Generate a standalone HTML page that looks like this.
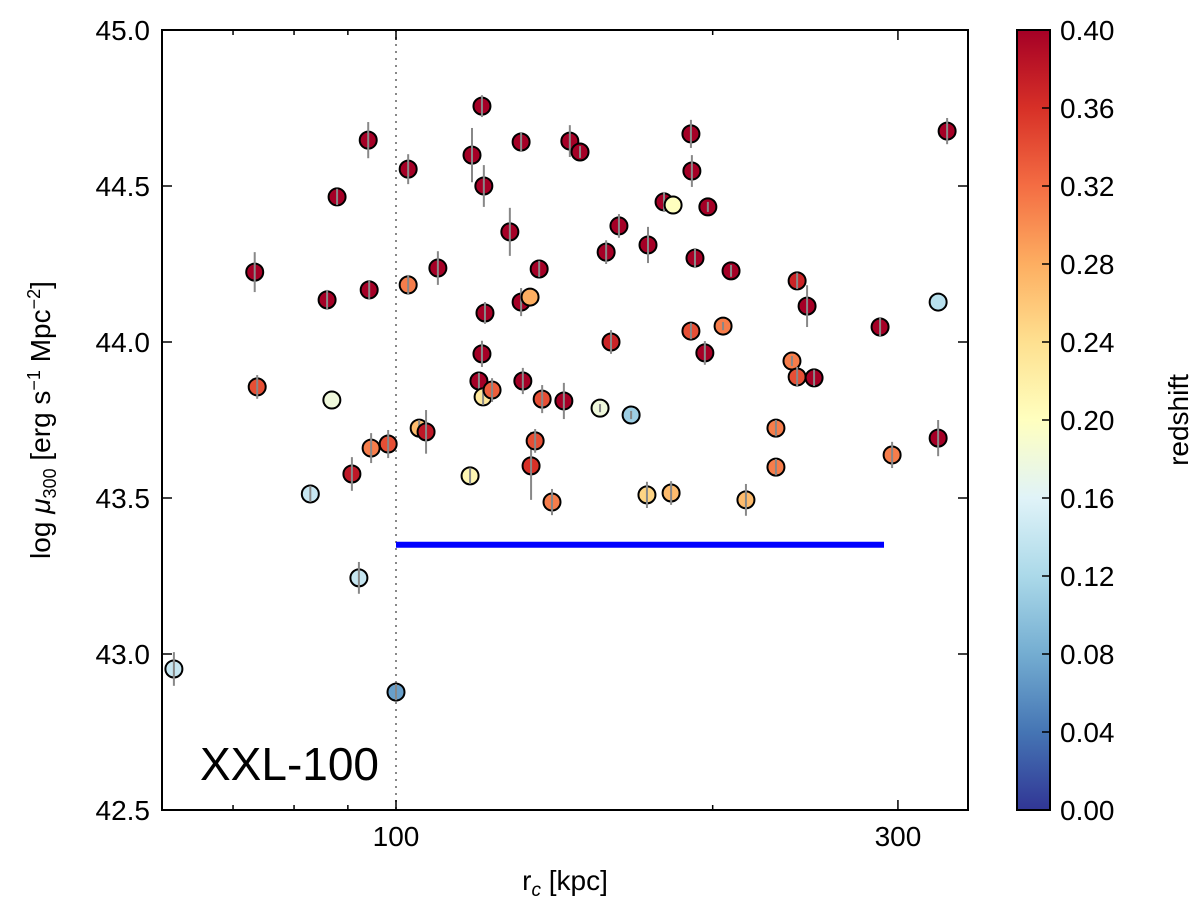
<!DOCTYPE html>
<html><head><meta charset="utf-8"><style>
body{margin:0;background:#fff;}
svg text{font-family:"Liberation Sans",sans-serif;}
</style></head><body>
<svg id="chart" width="1200" height="906" xmlns="http://www.w3.org/2000/svg"></svg>
<script>
const rcValues=[61.5,73.4,73.8,82.9,86.0,86.9,87.9,90.8,92.2,94.1,94.3,94.7,98.3,100,102.7,102.7,105.2,106.8,109.6,117.6,118.1,119.9,120.7,120.7,121.2,121.0,121.5,123.4,128.3,131.5,131.5,132.0,134.1,134.4,135.6,136.8,137.7,140.7,144.4,146.3,149.6,156.3,158.4,160.1,162.9,167.3,173.2,173.6,179.8,182.6,183.4,190.7,190.7,191.1,192.4,196.6,197.9,204.6,208.2,215.1,229.7,229.7,237.9,240.6,240.6,245.9,249.7,288.5,296.2,327.6,327.6,334.1];
const muValues=[42.952,44.224,43.856,43.513,44.135,43.814,44.465,43.577,43.244,44.647,44.167,43.660,43.673,42.878,44.554,44.183,43.724,43.712,44.237,43.571,44.599,43.875,44.756,43.962,44.5,43.824,44.093,43.846,44.353,44.641,44.128,43.875,44.144,43.603,43.683,44.234,43.817,43.487,43.811,44.644,44.609,43.788,44.288,44.0,44.372,43.766,43.510,44.311,44.449,43.516,44.439,44.667,44.035,44.548,44.269,43.965,44.433,44.051,44.228,43.494,43.724,43.599,43.939,44.196,43.888,44.115,43.885,44.048,43.638,44.128,43.692,44.676];
const muErr=[.054,.064,.038,.026,.032,0,.026,.054,.051,.058,.029,.048,.045,.026,.048,.032,.026,.07,.054,.026,.087,.026,.035,.042,.067,.026,.035,.038,.077,.029,.045,.042,0,.109,.038,.026,.045,.042,.058,.051,.019,.013,.038,.038,.038,.013,.042,.058,.032,.038,0,.045,.026,.051,.032,.038,.016,.013,.019,.051,.026,.026,.016,.026,.032,.067,.026,.032,.042,0,.058,.042];
const zValues=[.14,.40,.34,.14,.40,.18,.40,.38,.14,.40,.40,.31,.34,.07,.40,.31,.27,.38,.40,.21,.40,.40,.40,.40,.40,.23,.40,.33,.40,.40,.40,.40,.28,.36,.34,.40,.34,.31,.40,.40,.40,.18,.40,.37,.40,.11,.25,.40,.40,.27,.20,.40,.34,.40,.40,.40,.40,.31,.40,.27,.31,.31,.31,.37,.34,.40,.40,.40,.31,.13,.40,.40];
const yTicks=[42.5,43.0,43.5,44.0,44.5,45.0];
const yTickLabels=["42.5","43.0","43.5","44.0","44.5","45.0"];
const xMajor=[100,300];
const xMinor=[60,70,80,90,200];
const cbTicks=[0,.04,.08,.12,.16,.2,.24,.28,.32,.36,.40];
const rcLimit=[100,291];
const muLimit=43.35;

const L=162,R=968,T=30,B=810;
const X=r=>396+1052*Math.log10(r/100);
const Y=v=>T+(45-v)*(B-T)/2.5;
const stops=["#313695","#4575b4","#74add1","#abd9e9","#e0f3f8","#ffffbf","#fee090","#fdae61","#f46d43","#d73027","#a50026"];
function cmap(z){let t=Math.max(0,Math.min(1,z/0.4))*10;let i=Math.min(9,Math.floor(t)),f=t-i;
 const a=stops[i],b=stops[i+1];const p=(h,k)=>parseInt(h.substr(k,2),16);
 let c=[1,3,5].map(k=>Math.round(p(a,k)+(p(b,k)-p(a,k))*f));return `rgb(${c})`;}
const svg=document.getElementById('chart');const NS="http://www.w3.org/2000/svg";
function el(tag,attrs,parent){const e=document.createElementNS(NS,tag);for(const k in attrs)e.setAttribute(k,attrs[k]);(parent||svg).appendChild(e);return e;}

let dl=el('line',{x1:X(100),x2:X(100),y1:T,y2:B,stroke:'#888','stroke-width':2,'stroke-dasharray':'2,5'});


rcValues.forEach((r,i)=>{const g=el('g',{});
 
 
 const cx=X(r),cy=Y(muValues[i]);
 el('circle',{cx:cx,cy:cy,r:8.5,fill:cmap(zValues[i]),stroke:'#000','stroke-width':2},g);
 if(muErr[i]>0)el('line',{x1:cx,x2:cx,y1:Y(muValues[i]+muErr[i]),y2:Y(muValues[i]-muErr[i]),stroke:'#888','stroke-width':2},g);
});
let bl=el('line',{x1:X(rcLimit[0]),x2:X(rcLimit[1]),y1:Y(muLimit),y2:Y(muLimit),stroke:'#0000ff','stroke-width':6});


let fr=el('rect',{x:L,y:T,width:R-L,height:B-T,fill:'none',stroke:'#000','stroke-width':2});


yTicks.forEach((v,i)=>{const y=Y(v);
 el('line',{x1:L,x2:L+10,y1:y,y2:y,stroke:'#000','stroke-width':1.5});
 el('line',{x1:R,x2:R-10,y1:y,y2:y,stroke:'#000','stroke-width':1.5});
 const t=el('text',{x:L-12,y:y+10,'text-anchor':'end','font-size':28});t.textContent=yTickLabels[i];
 
 
});
xMajor.forEach(r=>{const x=X(r);
 el('line',{x1:x,x2:x,y1:B,y2:B-10,stroke:'#000','stroke-width':1.5});
 el('line',{x1:x,x2:x,y1:T,y2:T+10,stroke:'#000','stroke-width':1.5});
 const t=el('text',{x:x,y:B+36,'text-anchor':'middle','font-size':28});t.textContent=String(r);
 
 
});
xMinor.forEach(r=>{const x=X(r);if(x<L+1)return;
 el('line',{x1:x,x2:x,y1:B,y2:B-5,stroke:'#000','stroke-width':1.5});
 el('line',{x1:x,x2:x,y1:T,y2:T+5,stroke:'#000','stroke-width':1.5});});
let xl=el('text',{x:565,y:890,'text-anchor':'middle','font-size':28});xl.innerHTML='r<tspan font-style="italic" font-size="19" dy="6">c</tspan><tspan dy="-6"> [kpc]</tspan>';


let yl=el('text',{x:0,y:0,'text-anchor':'middle','font-size':28,transform:'translate(50,420) rotate(-90)'});
yl.innerHTML='log <tspan font-style="italic">μ</tspan><tspan font-size="18" dy="6">300</tspan><tspan dy="-6"> [erg s</tspan><tspan font-size="18" dy="-10">−1</tspan><tspan dy="10"> Mpc</tspan><tspan font-size="18" dy="-10">−2</tspan><tspan dy="10">]</tspan>';


let lab=el('text',{x:200,y:780,'font-size':46});lab.textContent='XXL-100';


const CL=1017,CR=1050;
const defs=el('defs',{});const lg=el('linearGradient',{id:'cb',x1:0,y1:1,x2:0,y2:0},defs);
stops.forEach((s,i)=>el('stop',{offset:i/10,'stop-color':s},lg));
let cb=el('rect',{x:CL,y:T,width:CR-CL,height:B-T,fill:'url(#cb)',stroke:'#000','stroke-width':2});


cbTicks.forEach(v=>{const y=B-(B-T)*v/0.4;
 el('line',{x1:CR,x2:CR-8,y1:y,y2:y,stroke:'#000','stroke-width':1.5});
 const t=el('text',{x:CR+10,y:y+10,'font-size':28});t.textContent=v.toFixed(2);
 
 
});
let cl=el('text',{x:0,y:0,'text-anchor':'middle','font-size':28,transform:'translate(1188,420) rotate(-90)'});cl.textContent='redshift';


</script>
</body></html>
